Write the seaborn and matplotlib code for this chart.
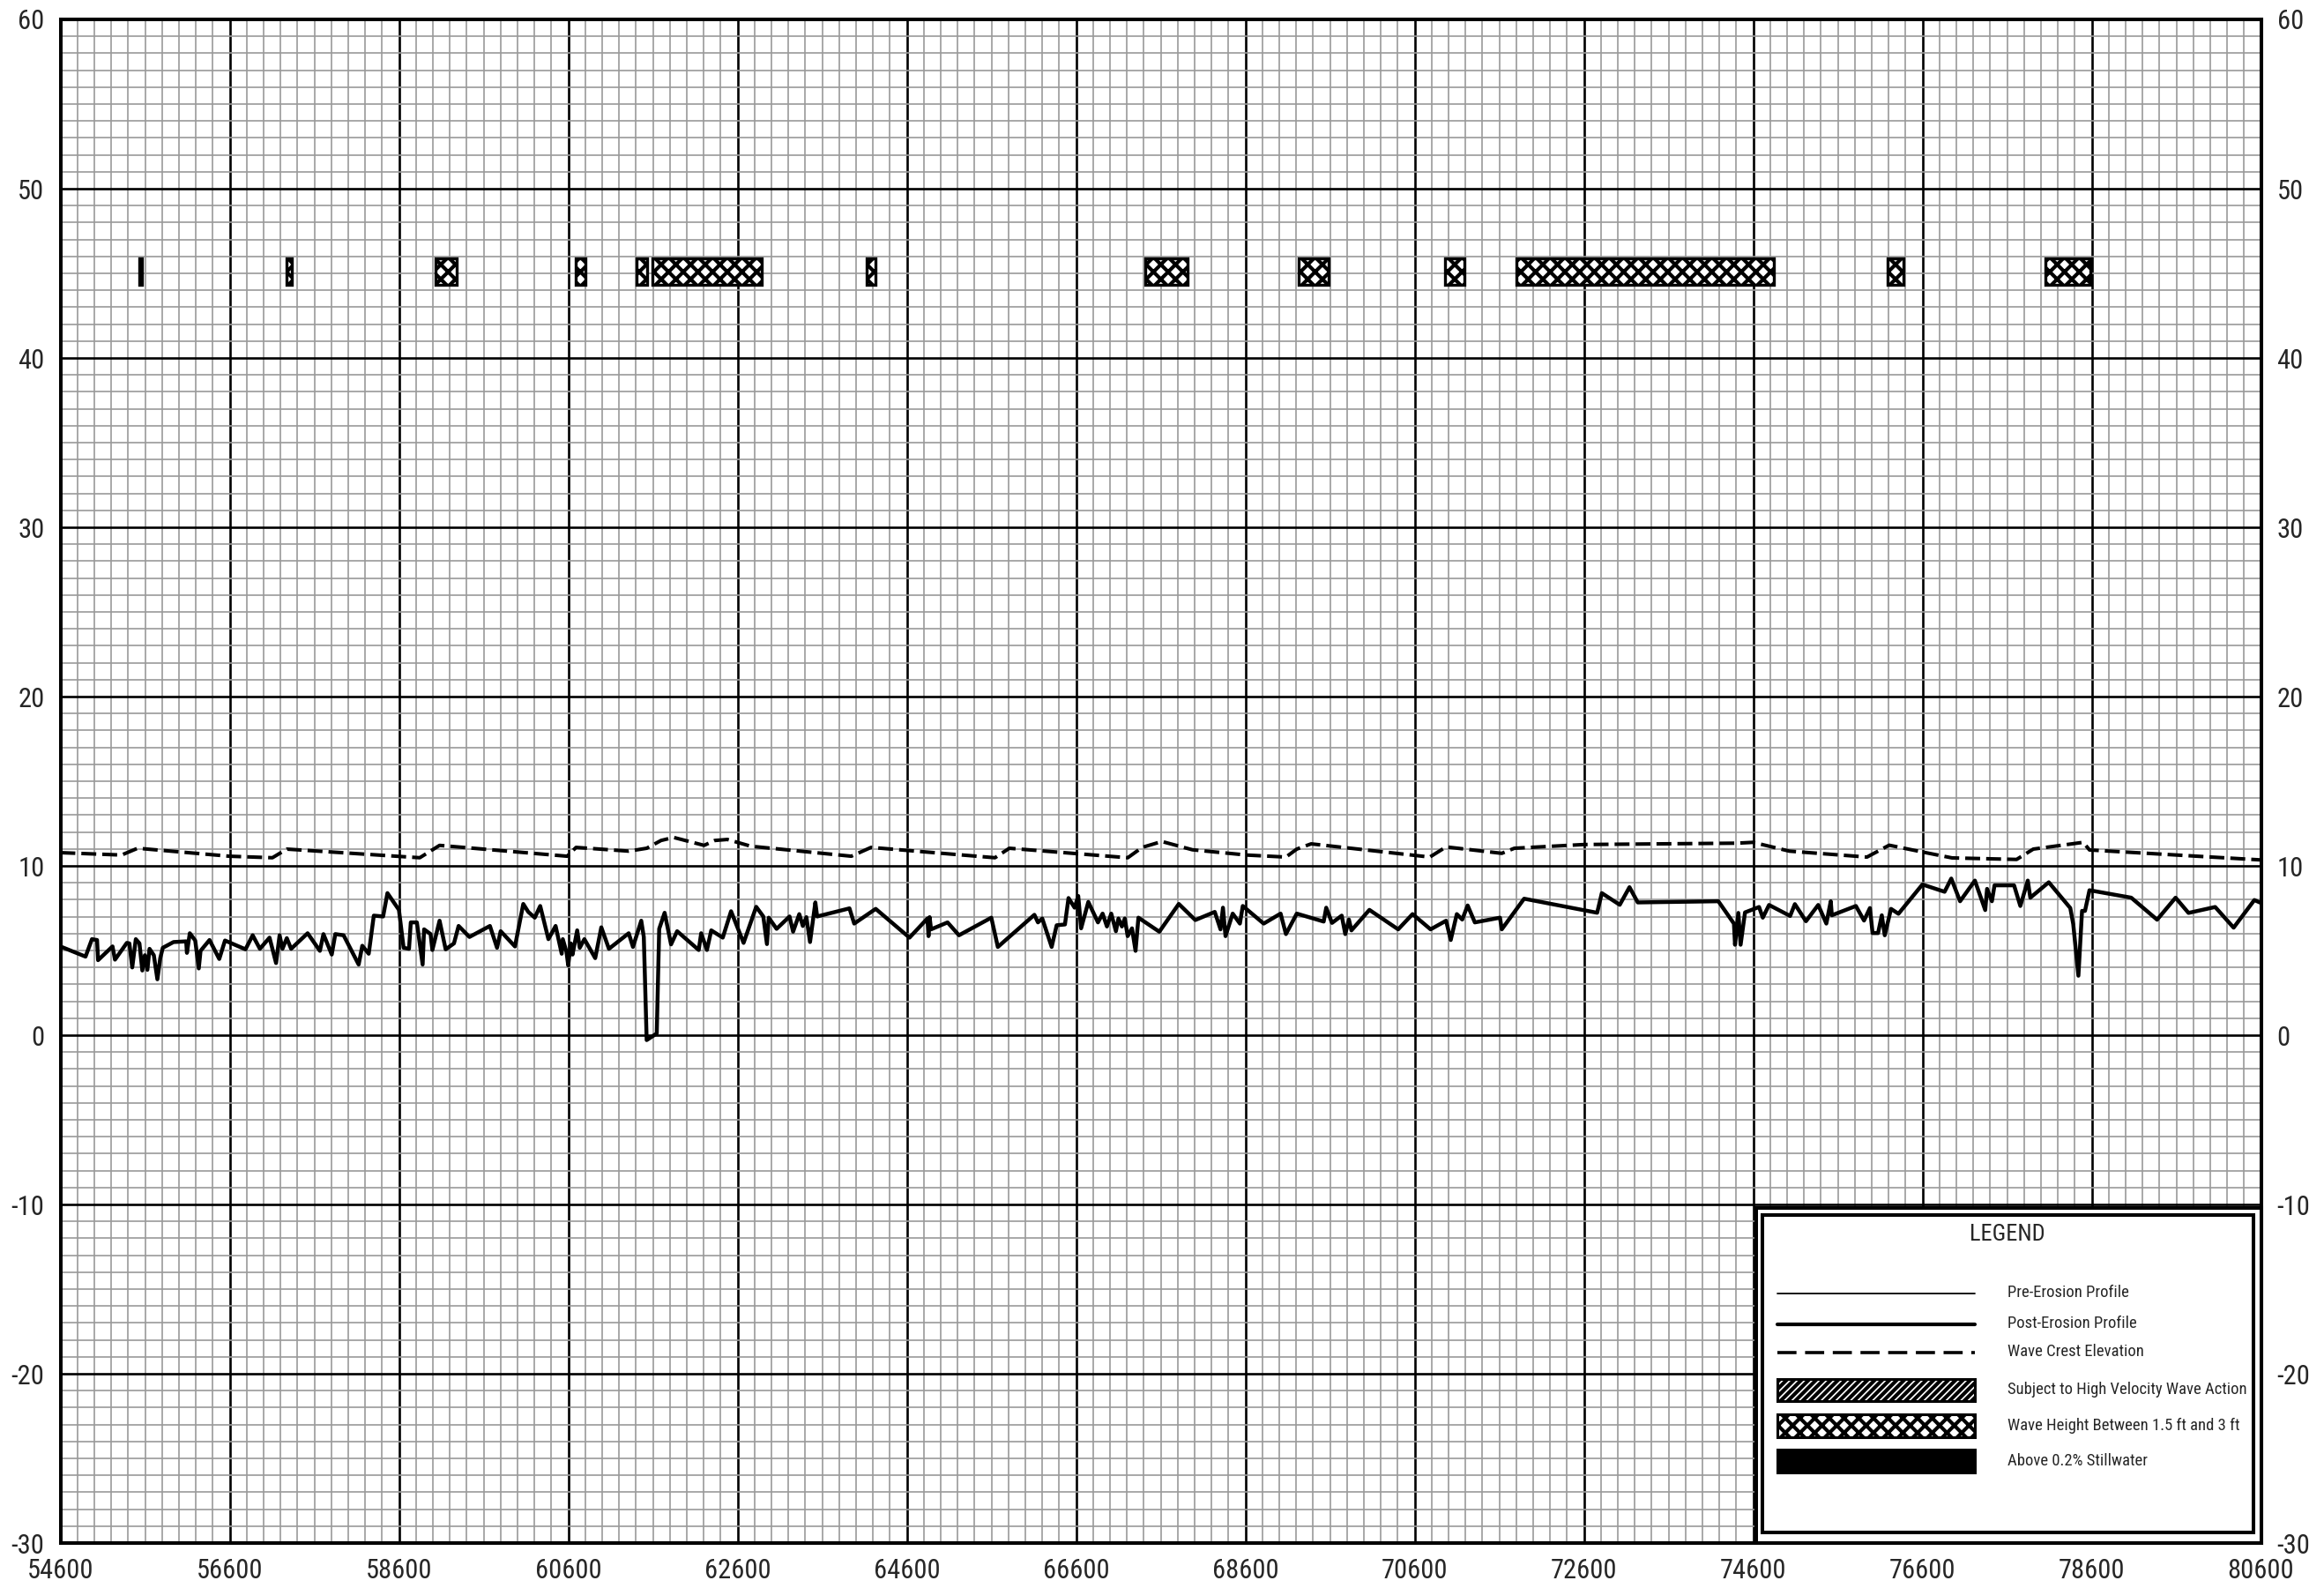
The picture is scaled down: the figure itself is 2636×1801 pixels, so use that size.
import matplotlib
matplotlib.use("Agg")
import matplotlib.pyplot as plt
from matplotlib.patches import Rectangle
from matplotlib.lines import Line2D
from matplotlib import font_manager
import numpy as np
import pandas as pd
import seaborn as sns

# ---------------- data ----------------
post_x = [54600, 54897, 54973, 55033, 55045, 55216, 55245, 55385, 55415, 55449, 55491, 55534,
          55568, 55598, 55628, 55653, 55704, 55746, 55780, 55810, 55937, 56086, 56095, 56129,
          56193, 56235, 56256, 56362, 56477, 56545, 56787, 56872, 56957, 57071, 57148, 57190,
          57224, 57275, 57326, 57521, 57666, 57708, 57806, 57848, 57946, 58124, 58167, 58243,
          58303, 58413, 58464, 58600, 58655, 58719, 58740, 58812, 58880, 58897, 58974, 58995,
          59080, 59152, 59250, 59305, 59433, 59675, 59759, 59802, 59971, 60069, 60128, 60205,
          60269, 60366, 60451, 60523, 60536, 60579, 60600, 60630, 60651, 60706, 60736, 60791,
          60919, 60991, 61081, 61315, 61365, 61463, 61493, 61527, 61646, 61675, 61739, 61815,
          61887, 62142, 62171, 62239, 62290, 62426, 62524, 62672, 62821, 62905, 62948, 62969,
          63062, 63215, 63257, 63330, 63372, 63414, 63457, 63520, 63541, 63923, 63979, 64233,
          64632, 64844, 64857, 64870, 64887, 65082, 65217, 65599, 65676, 66108, 66150, 66201,
          66312, 66371, 66469, 66511, 66583, 66626, 66660, 66745, 66859, 66914, 66965, 67016,
          67071, 67101, 67142, 67176, 67210, 67261, 67303, 67337, 67584, 67814, 68009, 68239,
          68307, 68336, 68366, 68451, 68536, 68570, 68817, 69017, 69080, 69208, 69526, 69556,
          69624, 69739, 69781, 69824, 69854, 70066, 70406, 70576, 70789, 70972, 71027, 71099,
          71163, 71227, 71312, 71609, 71630, 71894, 72757, 72812, 73024, 73139, 73237, 74189,
          74373, 74386, 74425, 74452, 74504, 74670, 74714, 74788, 75037, 75093, 75224, 75369,
          75465, 75517, 75530, 75814, 75910, 75980, 76011, 76076, 76120, 76155, 76229, 76317,
          76600, 76862, 76941, 77045, 77220, 77342, 77364, 77421, 77452, 77683, 77757, 77845,
          77875, 78093, 78347, 78382, 78443, 78486, 78521, 78574, 79067, 79373, 79591, 79744,
          80059, 80277, 80522, 80600]
post_y = [5.24, 4.64, 5.67, 5.62, 4.43, 5.24, 4.46, 5.45, 5.42, 4.00, 5.67, 5.42,
          3.82, 4.72, 3.86, 5.10, 4.72, 3.30, 4.55, 5.16, 5.50, 5.54, 4.86, 6.02,
          5.59, 3.94, 4.98, 5.62, 4.50, 5.59, 5.07, 5.90, 5.10, 5.76, 4.26, 5.90,
          5.10, 5.73, 5.10, 6.02, 4.98, 5.97, 4.76, 5.97, 5.90, 4.17, 5.28, 4.81,
          7.06, 7.01, 8.39, 7.40, 5.16, 5.10, 6.66, 6.66, 4.17, 6.25, 5.97, 5.03,
          6.76, 5.07, 5.42, 6.45, 5.80, 6.45, 5.16, 6.14, 5.24, 7.75, 7.28, 6.94,
          7.63, 5.67, 6.45, 4.81, 5.67, 4.93, 4.12, 5.42, 4.76, 6.19, 5.16, 5.67,
          4.55, 6.37, 5.10, 6.02, 5.21, 6.76, 5.80, -0.29, 0.10, 6.28, 7.23, 5.36,
          6.14, 5.03, 6.02, 5.03, 6.19, 5.76, 7.32, 5.45, 7.58, 7.01, 5.38, 6.94,
          6.28, 7.01, 6.11, 7.15, 6.45, 6.97, 5.50, 7.84, 7.01, 7.49, 6.59, 7.46,
          5.76, 6.89, 5.85, 6.97, 6.25, 6.66, 5.90, 6.94, 5.21, 7.11, 6.66, 6.89,
          5.21, 6.49, 6.54, 8.10, 7.53, 8.22, 6.31, 7.87, 6.66, 7.18, 6.42, 7.18,
          6.14, 6.89, 6.42, 6.89, 5.85, 6.31, 4.98, 6.94, 6.11, 7.75, 6.80, 7.28,
          6.25, 7.53, 5.85, 7.18, 6.59, 7.63, 6.59, 7.18, 5.97, 7.18, 6.71, 7.53,
          6.63, 7.06, 5.97, 6.83, 6.19, 7.40, 6.25, 7.15, 6.25, 6.76, 5.62, 7.15,
          6.83, 7.66, 6.66, 6.94, 6.25, 8.06, 7.23, 8.39, 7.70, 8.74, 7.84, 7.91,
          6.59, 5.34, 7.22, 5.34, 7.25, 7.57, 6.94, 7.69, 7.04, 7.74, 6.73, 7.69,
          6.59, 7.91, 7.08, 7.63, 6.77, 7.51, 6.03, 6.03, 7.08, 5.90, 7.46, 7.17,
          8.90, 8.47, 9.25, 7.91, 9.13, 7.39, 8.64, 7.91, 8.85, 8.85, 7.63, 9.13,
          8.12, 9.03, 7.51, 6.56, 3.51, 7.34, 7.34, 8.56, 8.12, 6.82, 8.12, 7.22,
          7.57, 6.35, 7.98, 7.81]

crest_x = [54600, 55322, 55513, 56596, 57105, 57275, 58846, 59080, 60587, 60693, 60975,
           61315, 61527, 61697, 61845, 62205, 62332, 62481, 62757, 63945, 64178, 65642,
           65812, 67211, 67381, 67614, 67975, 68613, 69080, 69208, 69378, 70780, 70972,
           71630, 71779, 72600, 74408, 74600, 75028, 75945, 76207, 76600, 76950, 77713,
           77910, 78500, 78574, 80600]
crest_y = [10.78, 10.64, 11.04, 10.57, 10.48, 10.99, 10.48, 11.21, 10.57, 11.09, 10.99,
           10.87, 11.04, 11.50, 11.68, 11.21, 11.50, 11.56, 11.16, 10.57, 11.09, 10.48,
           11.04, 10.48, 11.09, 11.44, 10.95, 10.64, 10.52, 10.99, 11.30, 10.52, 11.12,
           10.74, 11.04, 11.26, 11.34, 11.39, 10.87, 10.52, 11.22, 10.82, 10.47, 10.38,
           10.99, 11.39, 10.94, 10.35]

zone_start = [55530, 57267, 59031, 60688, 61411, 61591, 64128, 67417, 69229, 70963, 71802, 76191, 78053]
zone_end = [55560, 57339, 59282, 60807, 61531, 62888, 64229, 67913, 69581, 71190, 74845, 76377, 78585]
zone_bottom = 44.3
zone_top = 45.9

x_ticks = list(range(54600, 80601, 2000))
y_ticks = list(range(-30, 61, 10))

legend_labels = ["Pre-Erosion Profile", "Post-Erosion Profile", "Wave Crest Elevation",
                 "Subject to High Velocity Wave Action", "Wave Height Between 1.5 ft and 3 ft",
                 "Above 0.2% Stillwater"]

# ---------------- fonts ----------------
avail = {f.name for f in font_manager.fontManager.ttflist}
narrow = None
for cand in ["Liberation Sans Narrow", "Arial Narrow", "Roboto Condensed", "Open Sans Condensed",
             "DejaVu Sans Condensed"]:
    if cand in avail:
        narrow = cand
        break
if narrow is None:
    for f in font_manager.fontManager.ttflist:
        if ("Narrow" in f.name or "Condensed" in f.name) and "Mono" not in f.name and "Serif" not in f.name:
            narrow = f.name
            break

if narrow is not None:
    families = [narrow, "Liberation Sans", "DejaVu Sans"]
    tick_fs, leg_fs, title_fs = 22, 13.4, 19
else:
    families = ["Liberation Sans", "DejaVu Sans"]
    tick_fs, leg_fs, title_fs = 20, 12, 15

# ---------------- style ----------------
sns.set_style("white")
plt.rcParams['font.family'] = families
plt.rcParams['hatch.linewidth'] = 3.0
plt.rcParams['hatch.color'] = 'black'

fig = plt.figure(figsize=(26.36, 18.01), dpi=100)
W, H = 2636, 1801
ax_l, ax_r, ax_t, ax_b = 68.5, 2564.5, 22.0, 1750.0
ax = fig.add_axes([ax_l / W, 1 - ax_b / H, (ax_r - ax_l) / W, (ax_b - ax_t) / H])

post_df = pd.DataFrame({"station": post_x, "elev": post_y})
crest_df = pd.DataFrame({"station": crest_x, "elev": crest_y})

sns.lineplot(data=post_df, x="station", y="elev", ax=ax, color="black", linewidth=3.2,
             estimator=None, sort=False, zorder=3)
sns.lineplot(data=crest_df, x="station", y="elev", ax=ax, color="black", linewidth=2.9,
             linestyle=(0, (4.2, 1.7)), estimator=None, sort=False, zorder=3)

widths = [e - s for s, e in zip(zone_start, zone_end)]
ax.bar(zone_start, [zone_top - zone_bottom] * len(zone_start), width=widths, bottom=zone_bottom,
       align="edge", facecolor="white", edgecolor="black", hatch="xx", linewidth=2.4, zorder=3)

ax.set_xlim(54600, 80600)
ax.set_ylim(-30, 60)
ax.set_xticks(x_ticks)
ax.set_xticklabels([str(v) for v in x_ticks])
ax.set_yticks(y_ticks)
ax.set_yticklabels([str(v) for v in y_ticks])
ax.set_xticks(np.arange(54600, 80601, 200), minor=True)
ax.set_yticks(np.arange(-30, 61, 1), minor=True)
ax.grid(which="minor", color="#9a9a9a", linewidth=1.2)
ax.grid(which="major", color="black", linewidth=1.9)
ax.set_axisbelow(True)
ax.tick_params(which="both", length=0)
ax.tick_params(axis="y", labelright=True, labelleft=True, labelsize=tick_fs, pad=13)
ax.tick_params(axis="x", labelsize=tick_fs, pad=12)
ax.set_xlabel("")
ax.set_ylabel("")
for sp in ax.spines.values():
    sp.set_visible(True)
    sp.set_color("black")
    sp.set_linewidth(2.9)
    sp.set_zorder(6)

# ---------------- legend box (axes fraction) ----------------
def fx(px):
    return (px - ax_l) / (ax_r - ax_l)

def fy(py):
    return (ax_b - py) / (ax_b - ax_t)

T = ax.transAxes
outer = Rectangle((fx(1991.5), 0.0), 1.0 - fx(1991.5), fy(1370), transform=T,
                  facecolor="white", edgecolor="black", linewidth=2.9, zorder=7, clip_on=False)
ax.add_patch(outer)
inner = Rectangle((fx(1998.5), fy(1738)), fx(2556) - fx(1998.5), fy(1378) - fy(1738), transform=T,
                  facecolor="white", edgecolor="black", linewidth=2.9, zorder=8, clip_on=False)
ax.add_patch(inner)

ax.text(fx(2276.6), fy(1400), "LEGEND", transform=T, ha="center", va="center",
        fontsize=title_fs, zorder=9)

lx0, lx1 = fx(2016.4), fx(2239.5)
ax.add_line(Line2D([lx0, lx1], [fy(1466.7)] * 2, transform=T, color="black", linewidth=1.3, zorder=9))
ax.add_line(Line2D([lx0, lx1], [fy(1502.3)] * 2, transform=T, color="black", linewidth=3.0,
                   solid_capstyle="round", zorder=9))
ax.add_line(Line2D([lx0, lx1], [fy(1534)] * 2, transform=T, color="black", linewidth=2.6,
                   linestyle=(0, (6.0, 2.7)), zorder=9))
swatches = [(1564, 1589, "////", "white"), (1604, 1630, "xx", "white"), (1644, 1670, None, "black")]
for top, bot, hatch, fc in swatches:
    r = Rectangle((lx0, fy(bot)), lx1 - lx0, fy(top) - fy(bot), transform=T, facecolor=fc,
                  edgecolor="black", hatch=hatch, linewidth=2.2, zorder=9)
    ax.add_patch(r)

label_y = [1465.7, 1501, 1532.7, 1575.7, 1616.7, 1656.7]
for lab, yy in zip(legend_labels, label_y):
    ax.text(fx(2276.6), fy(yy), lab, transform=T, ha="left", va="center", fontsize=leg_fs, zorder=10)

fig.savefig("out.png", dpi=100)
